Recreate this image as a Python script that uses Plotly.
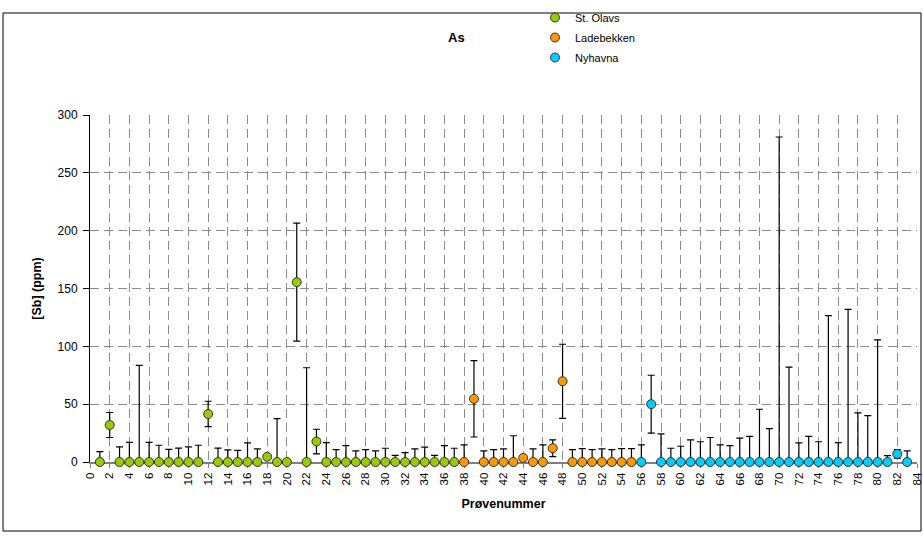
import plotly.graph_objects as go

# ---- data ----
olavs_x = list(range(1, 38))
olavs_y = [0, 32, 0, 0, 0, 0, 0, 0, 0, 0, 0, 41.5, 0, 0, 0, 0, 0, 4.5, 0, 0,
           155.5, 0, 17.7, 0, 0, 0, 0, 0, 0, 0, 0, 0, 0, 0, 0, 0, 0]
olavs_err = [9, 10.8, 13, 17, 83.5, 17, 14.5, 11, 12, 13, 14.5, 11, 12, 10.5, 10, 16.6, 11.3, 1.5, 37.5, 1,
             51, 81.5, 10.6, 16.8, 10.7, 14.2, 9.6, 10.7, 9.6, 11.9, 5.8, 8.1, 11.3, 12.8, 5.8, 14.2, 11.9]

lade_x = list(range(38, 56))
lade_y = [0, 54.6, 0, 0, 0, 0, 3.5, 0, 0, 11.9, 69.8, 0, 0, 0, 0, 0, 0, 0]
lade_err = [14.8, 33, 9.6, 10.7, 11.4, 22.7, 1, 11.3, 14.8, 7.3, 32, 10.7, 11.6, 10.7, 11.3, 10.7, 11.6, 11.6]

nyh_x = list(range(56, 84))
nyh_y = [0, 50, 0, 0, 0, 0, 0, 0, 0, 0, 0, 0, 0, 0, 0, 0, 0, 0, 0, 0, 0, 0, 0, 0, 0, 0, 7, 0]
nyh_err = [14.8, 25, 24.4, 11.9, 13.6, 19.2, 17.5, 21.2, 14.8, 14.2, 20.6, 22.1, 45.6, 28.8, 281, 82,
           16.6, 22.1, 17.5, 126.5, 16.8, 132, 42.4, 40.1, 105.5, 5.5, 3.7, 9.6]

series = [
    ("St. Olavs", olavs_x, olavs_y, olavs_err, "#99CC00"),
    ("Ladebekken", lade_x, lade_y, lade_err, "#FF9900"),
    ("Nyhavna", nyh_x, nyh_y, nyh_err, "#00CCFF"),
]

FONT = "Liberation Sans, Arial, sans-serif"

# plot area in pixels (for paper-coordinate conversions)
L, R, T, B = 90, 6, 115, 74
W, H = 923, 536
PW, PH = W - L - R, H - T - B


def px(xp):
    return (xp - L) / PW


def py(yp):
    return (H - B - yp) / PH


fig = go.Figure()
for i, (name, xs, ys, errs, col) in enumerate(series):
    fig.add_trace(go.Scatter(
        x=xs, y=ys, mode="markers", name=name, legendgroup=name,
        marker=dict(size=9, color=col, line=dict(color="#333333", width=1)),
        error_y=dict(type="data", symmetric=False, array=errs,
                     arrayminus=[min(e, v) for e, v in zip(errs, ys)],
                     color="#000000", thickness=1.2, width=3.5),
        cliponaxis=False,
    ))

fig.update_layout(
    width=W, height=H,
    margin=dict(l=L, r=R, t=T, b=B, autoexpand=False),
    paper_bgcolor="white", plot_bgcolor="white",
    font=dict(family=FONT, size=12, color="#000000"),
    showlegend=True,
    legend=dict(x=px(535), y=py(3), xanchor="left", yanchor="top",
                font=dict(family=FONT, size=11, color="#000000"),
                bgcolor="rgba(0,0,0,0)", tracegroupgap=1),
    xaxis=dict(range=[0, 84], dtick=2, tick0=0, tickangle=-90, automargin=False,
               showgrid=True, gridcolor="#8c8c8c", gridwidth=1, griddash="9px,5px",
               showline=True, linecolor="#808080", linewidth=2,
               ticks="outside", ticklen=4, tickcolor="#808080",
               tickfont=dict(family=FONT, size=11.5, color="#000000"),
               zeroline=False, layer="below traces",
               title=dict(text="<b>Prøvenummer</b>", standoff=15,
                          font=dict(family=FONT, size=12.5, color="#000000"))),
    yaxis=dict(range=[0, 300], dtick=50, tick0=0, automargin=False,
               showgrid=True, gridcolor="#8c8c8c", gridwidth=1, griddash="9px,5px",
               showline=True, linecolor="#000000", linewidth=1,
               ticks="outside", ticklen=6, tickcolor="#000000", ticklabelstandoff=3,
               tickfont=dict(family=FONT, size=12, color="#000000"),
               zeroline=False, layer="below traces",
               title=dict(text="<b>[Sb] (ppm)</b>", standoff=13,
                          font=dict(family=FONT, size=12.5, color="#000000"))),
    annotations=[dict(text="<b>As</b>", x=px(456), y=py(37), xref="paper", yref="paper",
                      showarrow=False, xanchor="center", yanchor="middle",
                      font=dict(family=FONT, size=13, color="#000000"))],
    shapes=[dict(type="rect", xref="paper", yref="paper",
                 x0=px(3), x1=px(921), y0=py(531), y1=py(13),
                 line=dict(color="#000000", width=1), fillcolor="rgba(0,0,0,0)", layer="below")],
)

fig.write_html("out.html", config={"displayModeBar": False},
               post_script="document.body.style.margin='0';")
